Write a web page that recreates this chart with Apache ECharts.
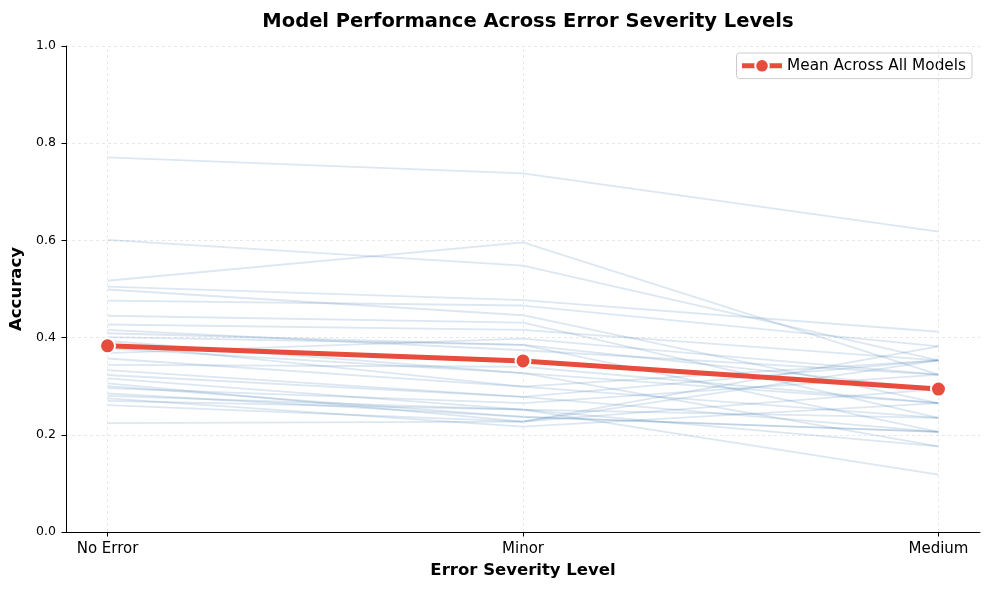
<!DOCTYPE html>
<html>
<head>
<meta charset="utf-8">
<script src="https://cdn.jsdelivr.net/npm/echarts@6/dist/echarts.min.js"></script>
<style>
html,body{margin:0;padding:0;background:#fff;}
#chart{width:989px;height:590px;}
</style>
</head>
<body>
<div id="chart"></div>
<script>
var categories = ['No Error', 'Minor', 'Medium'];
var yTicks = [0, 0.2, 0.4, 0.6, 0.8, 1.0];

var noErrorValues = [0.771, 0.601, 0.517, 0.505, 0.499, 0.476, 0.445, 0.427, 0.416, 0.409,
  0.401, 0.393, 0.387, 0.378, 0.368, 0.357, 0.344, 0.333, 0.323, 0.316,
  0.306, 0.296, 0.285, 0.275, 0.270, 0.280, 0.261, 0.224, 0.300];
var minorValues = [0.738, 0.548, 0.596, 0.477, 0.446, 0.466, 0.431, 0.416, 0.374, 0.385,
  0.385, 0.327, 0.299, 0.327, 0.398, 0.299, 0.340, 0.278, 0.278, 0.252,
  0.227, 0.265, 0.237, 0.217, 0.252, 0.252, 0.227, 0.227, 0.237];
var mediumValues = [0.618, 0.353, 0.324, 0.412, 0.265, 0.382, 0.235, 0.353, 0.324, 0.206,
  0.294, 0.265, 0.353, 0.176, 0.324, 0.235, 0.265, 0.206, 0.353, 0.118,
  0.382, 0.324, 0.206, 0.265, 0.235, 0.176, 0.294, 0.353, 0.206];
var meanValues = [0.383, 0.352, 0.294];

var FONT = 'DejaVu Sans';
var series = [];
// vertical grid lines at category positions
series.push({
  type: 'line', data: [], silent: true, z: 0,
  markLine: {
    silent: true, symbol: ['none', 'none'], label: {show: false},
    lineStyle: {color: '#e3e3e3', type: [3, 3], width: 0.8},
    data: [0, 1, 2].map(function (i) { return {xAxis: i}; })
  }
});
for (var m = 0; m < noErrorValues.length; m++) {
  series.push({
    name: 'Model ' + (m + 1),
    type: 'line',
    silent: true,
    symbol: 'none',
    z: 2,
    lineStyle: {color: 'rgba(70,130,180,0.19)', width: 1.8},
    data: [[0, noErrorValues[m]], [1, minorValues[m]], [2, mediumValues[m]]]
  });
}
series.push({
  name: 'Mean Across All Models',
  type: 'line',
  z: 5,
  symbol: 'circle',
  symbolSize: 15,
  lineStyle: {color: '#E74C3C', width: 5},
  itemStyle: {color: '#E74C3C', borderColor: '#ffffff', borderWidth: 2},
  data: meanValues.map(function (v, i) { return [i, v]; })
});

var chart = echarts.init(document.getElementById('chart'), null, {renderer: 'canvas'});
chart.setOption({
  animation: false,
  backgroundColor: '#ffffff',
  textStyle: {fontFamily: FONT},
  title: {
    text: 'Model Performance Across Error Severity Levels',
    left: 523, top: 7, textAlign: 'center',
    textStyle: {fontFamily: FONT, fontSize: 19.5, fontWeight: 'bold', color: '#000'}
  },
  legend: {
    data: ['Mean Across All Models'],
    right: 17, top: 53,
    orient: 'vertical',
    padding: [5, 6, 5, 3],
    borderColor: '#cccccc', borderWidth: 1, borderRadius: 3,
    backgroundColor: 'rgba(255,255,255,0.8)',
    itemWidth: 40, itemHeight: 17, itemGap: 6,
    lineStyle: {width: 5},
    textStyle: {fontFamily: FONT, fontSize: 15.3, color: '#000'}
  },
  grid: {left: 66, right: 9, top: 46, bottom: 58, containLabel: false},
  xAxis: {
    type: 'value', min: -0.1, max: 2.1,
    name: 'Error Severity Level', nameLocation: 'middle', nameGap: 30,
    nameTextStyle: {fontFamily: FONT, fontSize: 16.5, fontWeight: 'bold', color: '#000'},
    axisLine: {show: true, onZero: false, lineStyle: {color: '#000', width: 1}},
    axisTick: {show: true, customValues: [0, 1, 2], length: 4.5, lineStyle: {color: '#000'}},
    axisLabel: {customValues: [0, 1, 2], margin: 10, fontFamily: FONT, fontSize: 15, color: '#000',
      formatter: function (v) { return categories[Math.round(v)]; }},
    splitLine: {show: false}
  },
  yAxis: {
    type: 'value', min: 0, max: 1, interval: 0.2,
    name: 'Accuracy', nameLocation: 'middle', nameGap: 41,
    nameTextStyle: {fontFamily: FONT, fontSize: 16.5, fontWeight: 'bold', color: '#000'},
    axisLine: {show: true, onZero: false, lineStyle: {color: '#000', width: 1}},
    axisTick: {show: true, length: 4.5, lineStyle: {color: '#000'}},
    axisLabel: {margin: 10, fontFamily: FONT, fontSize: 12.5, color: '#000',
      formatter: function (v) { return v.toFixed(1); }},
    splitLine: {show: true, lineStyle: {color: '#e3e3e3', type: [3, 3], width: 0.8}}
  },
  series: series
});
</script>
</body>
</html>
